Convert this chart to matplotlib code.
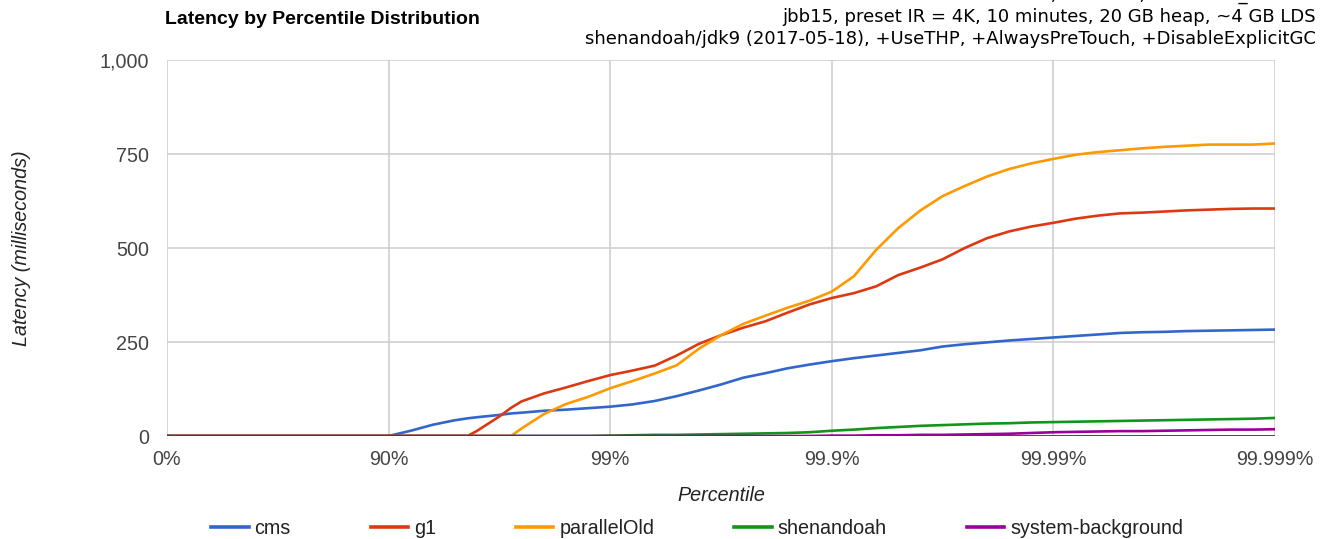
import numpy as np
import matplotlib
matplotlib.use("Agg")
import matplotlib.pyplot as plt
from matplotlib.lines import Line2D

# ---------------- data ----------------
percentiles = [0, 50, 90, 92.057, 93.690, 94.988, 95.6, 96.019, 96.838, 97.2, 97.488,
               98.005, 98.415, 98.741, 99.0, 99.2057, 99.3690, 99.4988, 99.6019,
               99.6838, 99.7488, 99.8005, 99.8415, 99.8741, 99.9, 99.92057, 99.93690,
               99.94988, 99.96019, 99.96838, 99.97488, 99.98005, 99.98415, 99.98741,
               99.99, 99.992057, 99.993690, 99.994988, 99.996019, 99.996838, 99.997488,
               99.998005, 99.998415, 99.998741, 99.999]

cms = [0, 0, 0, 14, 30, 42, 47, 50, 56, 60, 62, 67, 70, 74, 78, 84, 93, 106, 121,
       137, 155, 167, 180, 190, 199, 207, 214, 221, 228, 238, 244, 249, 254, 258,
       262, 266, 270, 274, 276, 277, 279, 280, 281, 282, 283]
g1 = [0, 0, 0, 0, 0, 0, 0, 14, 52, 75, 92, 113, 129, 146, 162, 174, 187, 214, 245,
      268, 288, 305, 328, 350, 367, 380, 398, 428, 448, 470, 500, 526, 544, 557,
      567, 578, 586, 592, 594, 597, 600, 602, 604, 605, 605]
parallelOld = [0, 0, 0, 0, 0, 0, 0, 0, 0, 0, 20, 58, 85, 104, 127, 146, 166, 188, 232,
               268, 298, 320, 341, 360, 384, 425, 495, 553, 600, 638, 665, 690, 710, 725,
               737, 748, 755, 760, 765, 769, 772, 775, 775, 775, 778]
shenandoah = [0, 0, 0, 0, 0, 0, 0, 0, 0, 0, 0, 0, 0, 0, 1, 2, 3, 3, 4,
              5, 6, 7, 8, 10, 14, 17, 21, 24, 27, 29, 31, 33, 34, 36,
              37, 38, 39, 40, 41, 42, 43, 44, 45, 46, 48]
system_background = [0, 0, 0, 0, 0, 0, 0, 0, 0, 0, 0, 0, 0, 0, 0, 0, 0, 0, 0,
                     0, 0, 0, 0, 0, 1, 1, 2, 2, 3, 3, 4, 5, 6, 8,
                     10, 11, 12, 13, 13, 14, 15, 16, 17, 17, 18]

series_names = ["cms", "g1", "parallelOld", "shenandoah", "system-background"]
series_values = [cms, g1, parallelOld, shenandoah, system_background]
colors = ["#3366cc", "#dc3912", "#ff9900", "#109618", "#990099"]

x_ticks = [0, 90, 99, 99.9, 99.99, 99.999]
x_tick_labels = ["0%", "90%", "99%", "99.9%", "99.99%", "99.999%"]
y_ticks = [0, 250, 500, 750, 1000]
y_tick_labels = ["0", "250", "500", "750", "1,000"]

title = "Latency by Percentile Distribution"
subtitle_lines = ["2x E5-2697 v3 Xeon, 28 cores, Linux x86_64 4.11",
                  "jbb15, preset IR = 4K, 10 minutes, 20 GB heap, ~4 GB LDS",
                  "shenandoah/jdk9 (2017-05-18), +UseTHP, +AlwaysPreTouch, +DisableExplicitGC"]

# ---------------- scale ----------------
def fwd(p):
    p = np.asarray(p, dtype=float)
    return -np.log10(np.clip(1 - p / 100.0, 1e-12, None))

def inv(d):
    d = np.asarray(d, dtype=float)
    return 100.0 * (1 - 10.0 ** (-d))

W, H = 1326, 539
fig = plt.figure(figsize=(W / 100, H / 100), dpi=100)
ax = fig.add_axes([167 / W, 1 - 436 / H, (1275 - 167) / W, (436 - 60) / H])
ax.set_xscale("function", functions=(fwd, inv))

sans = ["Liberation Sans", "DejaVu Sans"]
FS = 14.2

for name, vals, c in zip(series_names, series_values, colors):
    ax.plot(percentiles, vals, color=c, lw=1.9, label=name, solid_capstyle="round",
            solid_joinstyle="round", zorder=3)

ax.set_xlim(0, 99.999)
ax.set_ylim(0, 1000)
ax.set_xticks(x_ticks)
ax.set_xticklabels(x_tick_labels)
ax.set_yticks(y_ticks)
ax.set_yticklabels(y_tick_labels)
ax.minorticks_off()
ax.tick_params(axis="both", length=0, labelsize=FS, colors="#444444")
ax.tick_params(axis="y", pad=13)
ax.tick_params(axis="x", pad=10)
for lab in ax.get_xticklabels() + ax.get_yticklabels():
    lab.set_family(sans)
ax.grid(True, color="#cccccc", lw=1.1)
ax.set_axisbelow(True)
for s in ax.spines.values():
    s.set_visible(False)
ax.axhline(0, color="#333333", lw=1.2, zorder=2)

ax.set_ylabel("Latency (milliseconds)", fontsize=FS, style="italic", family=sans,
              color="#222222", labelpad=49)
ax.set_xlabel("Percentile", fontsize=FS, style="italic", family=sans,
              color="#222222", labelpad=12)

fig.text(165 / W, 1 - 20 / H, title, fontsize=14, weight="bold", family=sans,
         ha="left", va="center", color="#000000")
for i, line in enumerate(subtitle_lines):
    fig.text(1316 / W, 1 - (-5 + 22 * i) / H, line, fontsize=13, family="DejaVu Sans",
             ha="right", va="center", color="#000000")

handles = [Line2D([], [], color=c, lw=2.6) for c in colors]
leg = fig.legend(handles, series_names, loc="center", bbox_to_anchor=(697 / W, 1 - 528 / H),
                 ncol=5, frameon=False, handlelength=1.9, handletextpad=0.3,
                 columnspacing=4.05, prop={"family": sans, "size": FS})
for t in leg.get_texts():
    t.set_color("#222222")

fig.savefig("out.png", dpi=100)
